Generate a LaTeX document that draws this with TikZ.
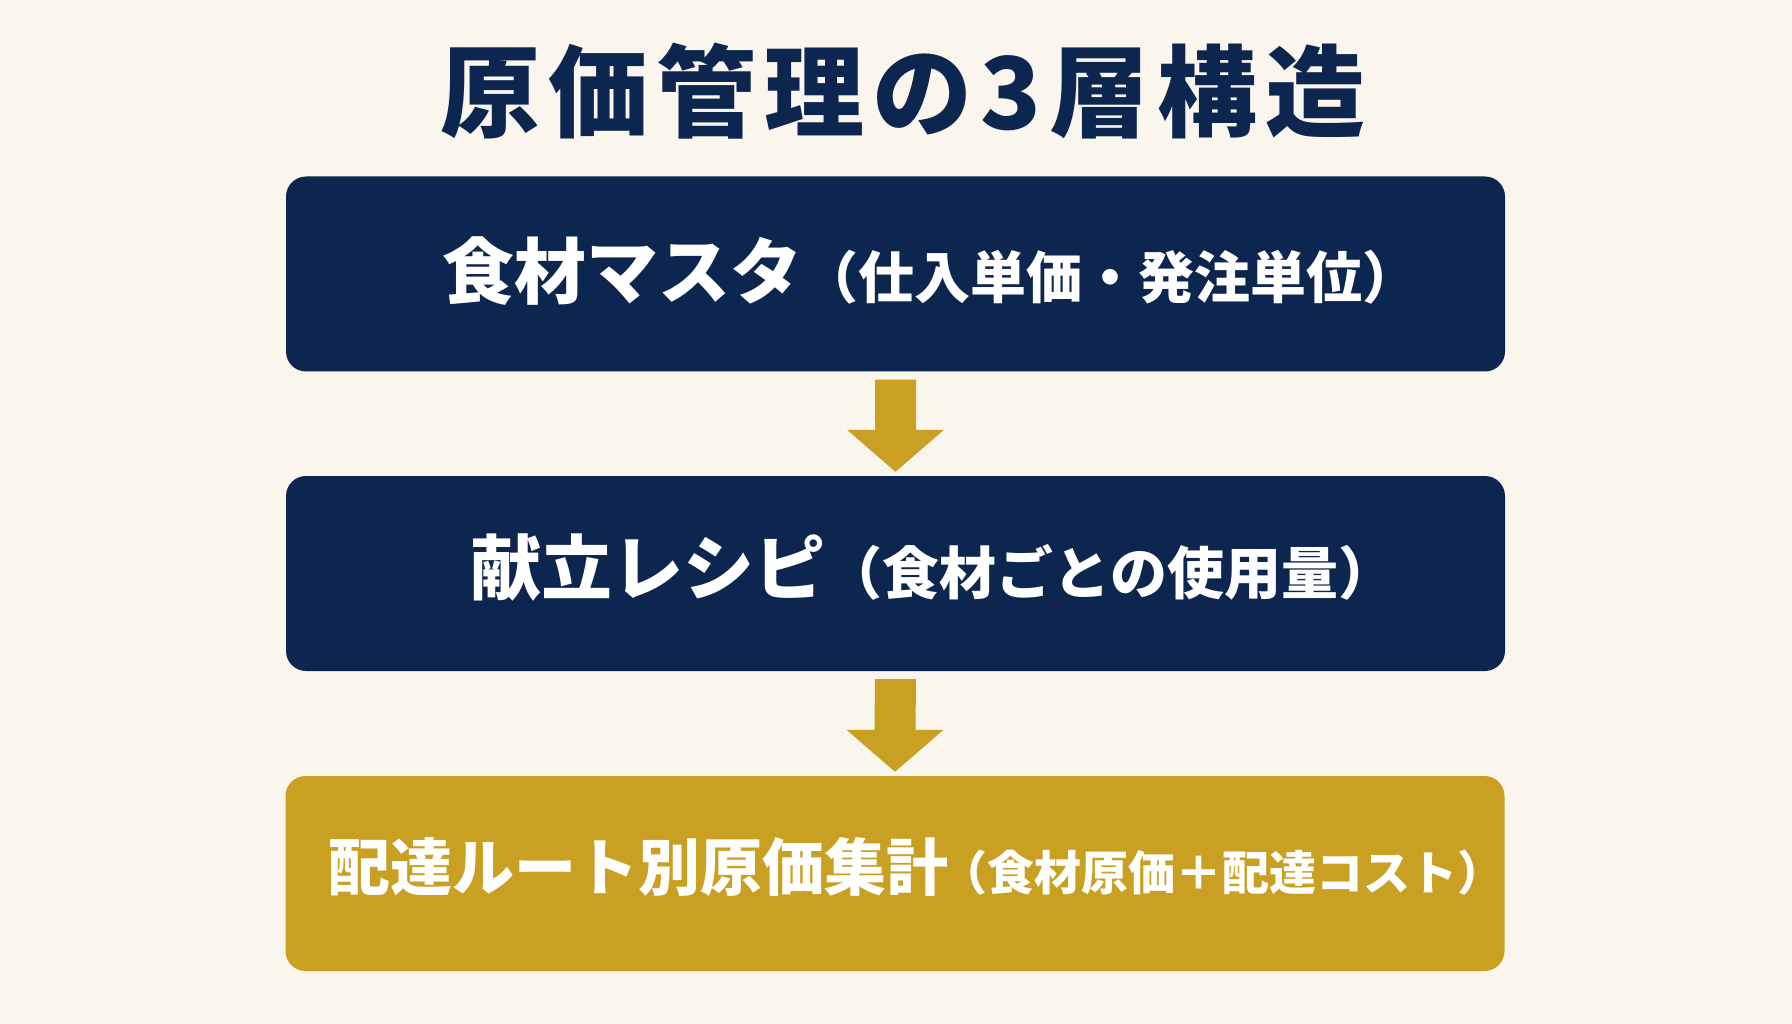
\documentclass[tikz,border=0pt]{standalone}
\usepackage{fontspec}
\setmainfont{Noto Sans CJK JP}
\usetikzlibrary{calc}
\definecolor{navy}{HTML}{0D2650}
\definecolor{gold}{HTML}{C9A021}
\definecolor{bgc}{HTML}{FAF6EE}
\tikzset{
  layerbox/.style={rectangle, rounded corners=20pt, minimum width=1219pt, minimum height=195pt, inner sep=0pt},
  navybox/.style={layerbox, fill=navy},
  goldbox/.style={layerbox, fill=gold},
  boxtext/.style={text=white, inner sep=0pt, font=\bfseries},
  arrowfill/.style={fill=gold},
}
\newcommand{\fsz}[1]{\fontsize{#1}{#1}\selectfont}
\begin{document}
\begin{tikzpicture}[x=1pt,y=-1pt]
\fill[bgc] (0,0) rectangle (1792,1024);
\useasboundingbox (0,0) rectangle (1792,1024);
\node[text=navy, inner sep=0pt, font=\bfseries\fontsize{100}{100}\selectfont\addfontfeatures{LetterSpace=8}] (title) at (903,91) {原価管理の3層構造};
\node[navybox] (b1) at (895.5,274) {};
\node[navybox] (b2) at (895.5,573.5) {};
\node[goldbox] (b3) at (895,873.5) {};
\node[boxtext] (t1) at (930,271) {{\fsz{72}食材マスタ}{\fsz{56}（仕入単価・発注単位）}};
\node[boxtext] (t2) at (933,568) {{\fsz{71}献立レシピ}{\fsz{57}（食材ごとの使用量）}};
\node[boxtext] (t3) at (916,867) {{\fsz{62}配達ルート別原価集計}\kern-8pt{\fsz{47}（食材原価＋配達コスト）}};
\foreach \a/\b in {b1/b2, b2/b3}{
  \fill[arrowfill] ($(\a.south)+(-20.5,8)$) -- ($(\a.south)+(20.5,8)$) -- ($(\b.north)+(20.5,-46)$) -- ($(\b.north)+(48.5,-46)$) -- ($(\b.north)+(0,-4)$) -- ($(\b.north)+(-48.5,-46)$) -- ($(\b.north)+(-20.5,-46)$) -- cycle;
}
\end{tikzpicture}
\end{document}
